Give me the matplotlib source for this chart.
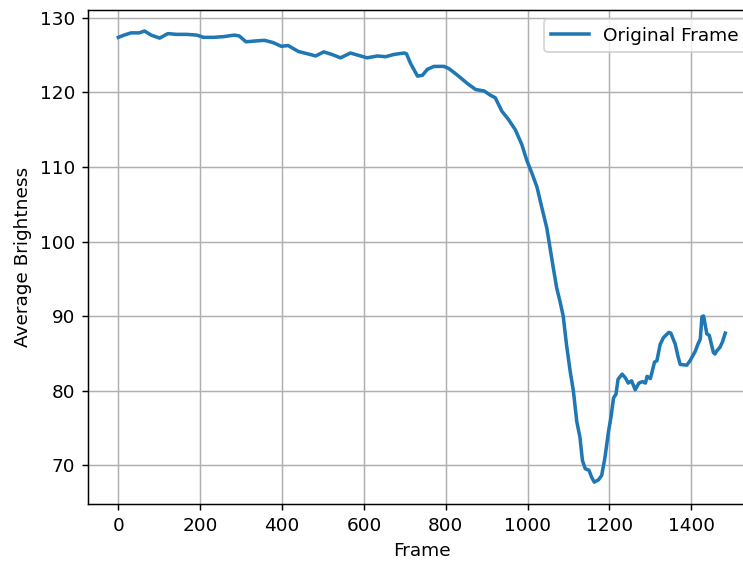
import matplotlib
matplotlib.use("Agg")
import matplotlib.pyplot as plt

frames = [0, 14, 31, 51, 64, 80, 101, 121, 142, 167, 192, 208, 233, 258, 283, 295,
          312, 332, 357, 378, 398, 415, 440, 469, 482, 502, 522, 543, 567, 592, 608,
          633, 653, 673, 698, 704, 714, 731, 743, 755, 771, 796, 808, 829, 853, 873,
          894, 910, 921, 937, 953, 970, 986, 998, 1011, 1023, 1035, 1047, 1055, 1063,
          1071, 1079, 1087, 1095, 1104, 1112, 1120, 1128, 1134, 1141, 1150, 1157, 1163,
          1173, 1181, 1189, 1198, 1204, 1210, 1216, 1221, 1231, 1239, 1246, 1254, 1263,
          1272, 1281, 1288, 1292, 1300, 1306, 1310, 1316, 1324, 1332, 1345, 1350, 1361,
          1367, 1373, 1389, 1397, 1410, 1416, 1422, 1426, 1430, 1438, 1444, 1454, 1458,
          1462, 1470, 1476, 1483]
brightness = [127.4, 127.7, 128.0, 128.0, 128.25, 127.7, 127.3, 127.9, 127.8, 127.8, 127.7,
              127.4, 127.4, 127.5, 127.7, 127.6, 126.8, 126.9, 127.0, 126.7, 126.2, 126.3,
              125.5, 125.1, 124.9, 125.45, 125.1, 124.65, 125.3, 124.9, 124.65, 124.9, 124.8,
              125.1, 125.3, 125.2, 123.9, 122.2, 122.3, 123.1, 123.5, 123.5, 123.2, 122.3,
              121.2, 120.4, 120.2, 119.6, 119.3, 117.5, 116.4, 115.0, 113.0, 110.9, 109.1,
              107.3, 104.5, 101.8, 99.1, 96.4, 93.8, 92.0, 90.0, 86.2, 82.6, 79.9, 75.9,
              73.7, 70.6, 69.5, 69.3, 68.3, 67.7, 68.0, 68.6, 71.0, 74.6, 76.5, 79.0, 79.5,
              81.5, 82.2, 81.7, 81.0, 81.3, 80.1, 81.0, 81.2, 81.0, 81.9, 81.6, 82.9, 83.8,
              84.0, 86.2, 87.1, 87.8, 87.7, 86.2, 84.7, 83.5, 83.4, 84.0, 85.3, 86.2, 86.9,
              89.9, 90.0, 87.6, 87.4, 85.1, 84.9, 85.3, 85.8, 86.5, 87.7]

series_label = "Original Frame"
x_label = "Frame"
y_label = "Average Brightness"

DPI = 133.3
fig = plt.figure(figsize=(743 / DPI, 563 / DPI), dpi=DPI)
ax = fig.add_axes([88 / 743, 1 - 504 / 563, 667.6 / 743, 494 / 563])
ax.plot(frames, brightness, color="#1f77b4", linewidth=1.9, label=series_label)
ax.set_xlabel(x_label)
ax.set_ylabel(y_label)
ax.set_ylim(64.77, 131.07)
ax.grid(True)
ax.legend(loc="upper right")
fig.savefig("out.png", dpi=DPI)
